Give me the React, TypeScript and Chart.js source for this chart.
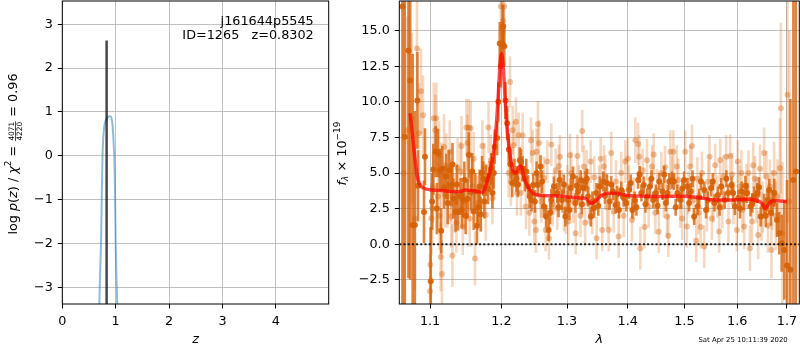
import React, { useEffect, useRef } from 'react';
import { Chart, registerables } from 'chart.js';

Chart.register(...registerables);

const FONT = 'DejaVu Sans';
const FS = 12.8;

// ---------------- Left panel: log p(z) ----------------
const pzZ = [0.693, 0.71, 0.725, 0.74, 0.753, 0.768, 0.785, 0.8, 0.82, 0.84, 0.86, 0.88, 0.9, 0.915, 0.93, 0.944, 0.955, 0.965, 0.974, 0.985, 1.0, 1.015, 1.03, 1.04];
const pzLogP = [-3.4, -2.6, -2.0, -0.9, 0.0, 0.42, 0.65, 0.76, 0.83, 0.86, 0.885, 0.9, 0.9, 0.88, 0.8, 0.65, 0.45, 0.2, 0.0, -0.6, -2.0, -2.8, -3.4, -3.9];
const bestZ = 0.8302;
const bestZTop = 2.63;
const leftXTicks = [0, 1, 2, 3, 4];
const leftYTicks = [-3, -2, -1, 0, 1, 2, 3];
const leftXMin = 0, leftXMax = 4.99;
const leftYMin = -3.38, leftYMax = 3.53;
const objName = 'j161644p5545';
const objInfo = 'ID=1265   z=0.8302';

// ---------------- Right panel: spectrum ----------------
const rightXTicks = [1.1, 1.2, 1.3, 1.4, 1.5, 1.6, 1.7];
const rightYTicks = [-2.5, 0, 2.5, 5, 7.5, 10, 12.5, 15];
const rightXMin = 1.0595, rightXMax = 1.7257;
const rightYMin = -4.2, rightYMax = 17.08;
const timestamp = 'Sat Apr 25 10:11:39 2020';

const modelLam = [1.0734, 1.076, 1.079, 1.083, 1.087, 1.092, 1.1, 1.11, 1.12, 1.13, 1.14, 1.148, 1.155, 1.165, 1.1725, 1.1797, 1.1869, 1.1917, 1.195, 1.1984, 1.2, 1.2026, 1.2056, 1.209, 1.213, 1.2175, 1.2215, 1.2265, 1.229, 1.2348, 1.2441, 1.255, 1.27, 1.29, 1.305, 1.32, 1.33, 1.3384, 1.345, 1.355, 1.365, 1.38, 1.39, 1.4, 1.42, 1.45, 1.48, 1.5, 1.52, 1.54, 1.55, 1.57, 1.6, 1.62, 1.638, 1.648, 1.656, 1.662, 1.67, 1.68, 1.7];
const modelF = [9.2, 8.0, 6.4, 4.75, 4.15, 3.93, 3.82, 3.78, 3.75, 3.7, 3.68, 3.8, 3.78, 3.7, 3.65, 4.5, 5.9, 7.8, 10.1, 12.9, 13.4, 12.5, 10.1, 7.8, 6.15, 5.1, 5.0, 5.45, 5.5, 4.5, 3.7, 3.45, 3.4, 3.38, 3.3, 3.25, 3.2, 2.85, 3.0, 3.4, 3.58, 3.58, 3.5, 3.42, 3.38, 3.35, 3.36, 3.36, 3.3, 3.2, 3.12, 3.1, 3.12, 3.15, 3.05, 2.9, 2.5, 2.8, 3.05, 3.05, 3.0];

const darkLam = [
  1.0636, 1.0666, 1.0714, 1.0737, 1.0769, 1.0798, 1.0831, 1.0839, 1.0919, 1.0932,
  1.1009, 1.1044, 1.1077, 1.1107, 1.1135, 1.1150, 1.1189, 1.1221, 1.1258, 1.1290,
  1.1317, 1.1348, 1.1383, 1.1417, 1.1452, 1.1488, 1.1533, 1.1562, 1.1601, 1.1648,
  1.1685, 1.1720, 1.1753, 1.1781, 1.1830, 1.1869, 1.1903, 1.1938, 1.1976, 1.2015,
  1.2026, 1.2060, 1.2109, 1.2159, 1.2193, 1.2223, 1.2272, 1.2313, 1.2348, 1.2399,
  1.2423, 1.2475, 1.2526, 1.2545, 1.2587, 1.2638, 1.2675, 1.2711, 1.2753, 1.2794,
  1.2847, 1.2883, 1.2920, 1.2974, 1.3015, 1.3058, 1.3095, 1.3134, 1.3176, 1.3219,
  1.3257, 1.3296, 1.3338, 1.3383, 1.3437, 1.3476, 1.3531, 1.3586, 1.3648, 1.3693,
  1.3749, 1.3794, 1.3850, 1.3889, 1.3930, 1.4021, 1.4078, 1.4119, 1.4177, 1.4234,
  1.4276, 1.4334, 1.4382, 1.4440, 1.4488, 1.4547, 1.4606, 1.4667, 1.4727, 1.4776,
  1.4812, 1.4872, 1.4933, 1.4995, 1.5056, 1.5118, 1.5181, 1.5243, 1.5306, 1.5370,
  1.5433, 1.5497, 1.5562, 1.5626, 1.5690, 1.5756, 1.5822, 1.5887, 1.5954, 1.6020,
  1.6086, 1.6126, 1.6194, 1.6260, 1.6328, 1.6396, 1.6464, 1.6532, 1.6601, 1.6669,
  1.6738, 1.6793, 1.6841, 1.6890, 1.6945, 1.7001, 1.7070, 1.7133, 1.7184,
  // further points, mid wavelengths
  1.2500, 1.2610, 1.2735, 1.2866, 1.2950, 1.3038, 1.3155, 1.3238, 1.3318, 1.3410,
  1.3505, 1.3616, 1.3720, 1.3820, 1.3975, 1.4050, 1.4148, 1.4205, 1.4305, 1.4410,
  1.4518, 1.4636, 1.4697, 1.4842, 1.4964, 1.5087, 1.5150, 1.5275, 1.5402, 1.5530,
  1.5658, 1.5789, 1.5920, 1.6053, 1.6160, 1.6294, 1.6430, 1.6566, 1.6635, 1.6705,
  // further points, blue end and line
  1.1028, 1.1092, 1.1165, 1.1240, 1.1305, 1.1366, 1.1435, 1.1470, 1.1515, 1.1580,
  1.1625, 1.1667, 1.1702, 1.1738, 1.1806, 1.1850, 1.1886, 1.1955, 1.1990, 1.2042,
  1.2085, 1.2135, 1.2245, 1.2290, 1.2370, 1.2450,
];
const darkFlux = [
  16.7, 7.55, 13.6, 11.5, 1.35, 1.35, 10.1, 4.1, 2.27, 6.15,
  -2.6, 5.25, 6.5, 6.4, 5.2, 0.95, 4.0, 4.75, 5.2, 4.15,
  3.2, 2.27, 2.27, 3.35, 3.1, 2.0, 6.27, 3.65, 2.3, 1.3,
  4.05, 5.0, 3.0, 4.5, 4.75, 3.6, 6.85, 7.45, 14.1, 14.1,
  15.3, 10.1, 6.65, 4.3, 5.0, 4.6, 5.9, 5.3, 4.6, 4.05,
  3.35, 4.15, 5.0, 4.15, 5.45, 2.65, 1.95, 1.0, 3.1, 4.05,
  3.6, 4.5, 3.1, 1.95, 3.1, 3.95, 4.75, 2.9, 3.7, 4.5,
  3.95, 4.4, 3.35, 1.95, 2.55, 3.6, 4.05, 4.4, 4.3, 3.0,
  3.7, 2.75, 2.4, 3.8, 3.25, 3.8, 2.4, 3.1, 4.5, 3.6,
  4.15, 3.35, 4.05, 3.1, 3.6, 4.4, 3.7, 2.9, 4.4, 4.5,
  4.4, 3.6, 3.1, 4.5, 4.05, 3.7, 1.95, 2.65, 4.4, 3.8,
  3.1, 3.95, 2.9, 3.45, 4.05, 3.1, 3.6, 4.15, 2.65, 3.25,
  3.7, 3.1, 3.6, 2.65, 3.35, 3.6, 1.95, 2.75, 3.1, 2.2,
  3.6, 1.7, 0.77, 0.07, -0.4, -1.5, -1.8, 4.5, 5.1,
  3.0, 4.4, 2.2, 2.6, 4.2, 2.4, 4.1, 2.8, 4.6, 3.0,
  2.7, 3.4, 4.2, 3.5, 2.9, 4.3, 2.6, 4.9, 2.8, 4.6,
  2.7, 4.9, 3.6, 2.6, 3.9, 2.9, 4.6, 3.3, 2.4, 4.4,
  2.6, 4.6, 3.6, 2.5, 4.1, 2.9, 4.0, 2.0, 3.8, 2.9,
  3.0, 2.5, 5.3, 2.9, 5.6, 4.2, 2.4, 4.5, 3.2, 5.1,
  3.7, 2.6, 2.1, 4.6, 3.9, 5.3, 5.0, 10.0, 12.5, 13.9,
  8.5, 5.6, 4.2, 5.8, 5.1, 3.1,
];
const darkErr = [
  25, 20, 16, 14, 12, 8, 3.4, 2.5, 2.2, 2.0,
  3.8, 1.8, 1.8, 1.7, 1.5, 1.6, 1.5, 1.6, 1.4, 1.5,
  1.4, 1.4, 1.3, 1.3, 1.2, 1.3, 1.6, 1.3, 1.3, 1.3,
  1.2, 1.2, 1.2, 1.1, 1.1, 1.1, 1.2, 1.2, 1.5, 1.5,
  1.5, 1.3, 1.1, 1.0, 1.0, 0.9, 0.9, 0.9, 0.9, 0.8,
  0.8, 0.8, 0.8, 0.8, 0.8, 0.8, 0.8, 0.8, 0.8, 0.7,
  0.7, 0.7, 0.7, 0.7, 0.7, 0.7, 0.7, 0.7, 0.7, 0.7,
  0.7, 0.7, 0.7, 0.7, 0.7, 0.7, 0.7, 0.7, 0.6, 0.6,
  0.6, 0.6, 0.6, 0.6, 0.6, 0.6, 0.6, 0.6, 0.6, 0.6,
  0.6, 0.6, 0.6, 0.6, 0.6, 0.6, 0.6, 0.6, 0.6, 0.6,
  0.6, 0.6, 0.6, 0.6, 0.6, 0.6, 0.6, 0.6, 0.6, 0.6,
  0.6, 0.6, 0.6, 0.6, 0.6, 0.6, 0.6, 0.6, 0.6, 0.6,
  0.7, 0.7, 0.7, 0.7, 0.7, 0.7, 0.7, 0.8, 0.8, 0.9,
  1.0, 1.2, 1.5, 2.0, 3.5, 6, 12, 16, 20,
  0.8, 0.8, 0.8, 0.7, 0.7, 0.7, 0.7, 0.7, 0.7, 0.7,
  0.7, 0.6, 0.6, 0.6, 0.6, 0.6, 0.6, 0.6, 0.6, 0.6,
  0.6, 0.6, 0.6, 0.6, 0.6, 0.6, 0.6, 0.6, 0.6, 0.6,
  0.6, 0.6, 0.6, 0.7, 0.7, 0.7, 0.7, 0.8, 0.8, 0.9,
  2.0, 1.8, 1.6, 1.5, 1.5, 1.4, 1.3, 1.3, 1.4, 1.3,
  1.3, 1.3, 1.2, 1.2, 1.1, 1.1, 1.1, 1.4, 1.5, 1.4,
  1.2, 1.0, 0.9, 0.9, 0.9, 0.8,
];

const lightLam = [
  1.0650, 1.0700, 1.0757, 1.0797, 1.0826, 1.0852, 1.0878, 1.0906, 1.1004, 1.1000,
  1.1017, 1.1030, 1.1050, 1.1071, 1.1085, 1.1107, 1.1121, 1.1144, 1.1152, 1.1161,
  1.1189, 1.1198, 1.1234, 1.1267, 1.1290, 1.1304, 1.1337, 1.1376, 1.1415, 1.1447,
  1.1499, 1.1513, 1.1517, 1.1531, 1.1559, 1.1583, 1.1620, 1.1701, 1.1725, 1.1773,
  1.1813, 1.1846, 1.1894, 1.1992, 1.2007, 1.2026, 1.2041, 1.2106, 1.2126, 1.2140,
  1.2166, 1.2180, 1.2215, 1.2230, 1.2255, 1.2289, 1.2315, 1.2365, 1.2415, 1.2441,
  1.2466, 1.2491, 1.2517, 1.2527, 1.2547, 1.2563, 1.2589, 1.2640, 1.2666, 1.2717,
  1.2753, 1.2795, 1.2821, 1.2846, 1.2888, 1.2951, 1.2983, 1.3003, 1.3046, 1.3067,
  1.3137, 1.3190, 1.3243, 1.3271, 1.3314, 1.3352, 1.3406, 1.3478, 1.3516, 1.3571,
  1.3599, 1.3621, 1.3677, 1.3761, 1.3845, 1.3889, 1.3957, 1.4015, 1.4072, 1.4129,
  1.4176, 1.4198, 1.4216, 1.4257, 1.4332, 1.4362, 1.4420, 1.4478, 1.4539, 1.4585,
  1.4628, 1.4687, 1.4746, 1.4777, 1.4800, 1.4862, 1.4923, 1.5015, 1.5046, 1.5107,
  1.5168, 1.5218, 1.5261, 1.5325, 1.5368, 1.5418, 1.5467, 1.5512, 1.5575, 1.5619,
  1.5670, 1.5733, 1.5785, 1.5829, 1.5862, 1.5926, 1.5992, 1.6043, 1.6082, 1.6135,
  1.6181, 1.6248, 1.6313, 1.6379, 1.6413, 1.6479, 1.6533, 1.6580, 1.6648, 1.6681,
  1.6736, 1.6803, 1.6853, 1.6873, 1.6906, 1.7010, 1.7050,
  // further points
  1.2600, 1.2690, 1.2775, 1.2870, 1.2920, 1.3020, 1.3100, 1.3165, 1.3215, 1.3290,
  1.3380, 1.3440, 1.3545, 1.3650, 1.3720, 1.3800, 1.3930, 1.4000, 1.4100, 1.4290,
  1.4450, 1.4510, 1.4650, 1.4710, 1.4890, 1.4960, 1.5070, 1.5140, 1.5240, 1.5300,
  1.5445, 1.5540, 1.5650, 1.5710, 1.5900, 1.6010, 1.6100, 1.6220, 1.6290, 1.6350,
  1.6450, 1.6505, 1.6610, 1.6700, 1.6770,
  1.1040, 1.1130, 1.1220, 1.1280, 1.1360, 1.1430, 1.1470, 1.1545, 1.1600, 1.1660,
  1.1750, 1.1870,
];
const lightFlux = [
  5.0, 8.0, 8.85, 1.8, 13.75, 7.8, 10.75, 9.05, -1.45, -3.3,
  1.8, 2.5, 8.85, 8.0, 8.85, 3.35, 6.25, -0.9, 4.85, -2.1,
  6.85, 3.45, 3.35, 6.5, 1.95, -0.8, 2.9, 5.35, 5.1, 1.25,
  8.2, 7.1, 4.5, 8.2, 8.15, 4.05, -1.0, 2.65, 6.9, 2.05,
  8.2, 5.9, 5.0, 16.7, 15.15, 15.7, 16.7, 5.0, 11.4, 4.4,
  8.0, 6.95, 8.6, 3.6, 7.65, 3.6, 7.65, 2.65, 2.2, 7.3,
  6.4, 1.6, 1.0, 6.5, 8.45, 7.1, 3.35, 4.65, 1.0, 0.42,
  7.0, 3.6, 5.2, 2.5, 6.15, 2.4, 2.2, 4.05, 6.25, 5.0,
  0.77, 4.05, 7.95, 5.45, 5.1, 2.9, 2.2, 0.42, 4.05, 1.0,
  5.45, 4.75, 1.0, 2.3, 0.54, 5.0, 5.8, 4.05, 1.7, 7.3,
  7.04, 6.15, -0.28, 5.2, 5.9, 2.65, 5.45, 2.2, 0.88, 5.0,
  3.35, 1.95, 6.5, 4.75, 6.5, 5.45, 2.65, 6.5, 1.25, 5.45,
  3.1, 0.25, 2.2, 5.0, -0.17, 2.4, 6.15, 1.8, 5.55, 3.35,
  5.9, 4.75, 6.15, 1.6, 6.2, 2.9, 1.0, 4.05, 5.0, 1.25,
  4.05, -0.28, 5.55, 3.1, 0.65, 1.95, 6.4, 4.75, 4.05, -0.4,
  5.0, 3.35, 5.35, 9.55, 0.77, 10.5, 3.0,
  3.0, 5.8, 2.8, 5.5, 3.7, 1.6, 3.0, 6.2, 2.0, 1.5,
  5.8, 4.7, 6.0, 2.6, 6.4, 4.4, 2.0, 6.0, 3.2, 1.2,
  6.3, 3.8, 5.4, 0.6, 4.5, 1.8, 3.6, 6.9, 4.6, 1.2,
  4.4, 3.0, 0.9, 2.6, 4.9, 5.8, 2.4, 5.0, 1.6, 4.6,
  5.3, 2.6, 1.3, 3.1, 2.0,
  4.0, 2.0, 5.5, 3.8, 1.5, 6.9, 3.0, 1.8, 6.0, 2.9,
  5.3, 3.2,
];
const lightErr = [
  12, 8, 6, 5, 4, 3.5, 3, 2.8, 2.6, 2.6,
  2.5, 2.5, 2.5, 2.5, 2.5, 2.4, 2.4, 2.4, 2.3, 2.4,
  2.3, 2.3, 2.2, 2.2, 2.2, 2.2, 2.1, 2.1, 2.1, 2.0,
  2.0, 2.0, 2.0, 2.0, 1.9, 1.9, 1.9, 1.8, 1.8, 1.8,
  1.8, 1.8, 1.8, 2.0, 2.0, 2.0, 2.0, 1.7, 1.8, 1.7,
  1.7, 1.7, 1.7, 1.6, 1.6, 1.6, 1.6, 1.6, 1.6, 1.6,
  1.6, 1.6, 1.6, 1.6, 1.6, 1.6, 1.5, 1.5, 1.5, 1.5,
  1.5, 1.5, 1.5, 1.5, 1.5, 1.5, 1.5, 1.5, 1.5, 1.5,
  1.5, 1.5, 1.5, 1.5, 1.5, 1.5, 1.5, 1.5, 1.5, 1.5,
  1.5, 1.5, 1.5, 1.5, 1.5, 1.5, 1.5, 1.5, 1.5, 1.6,
  1.5, 1.5, 1.5, 1.5, 1.5, 1.5, 1.5, 1.5, 1.5, 1.5,
  1.5, 1.5, 1.5, 1.5, 1.5, 1.5, 1.5, 1.5, 1.5, 1.5,
  1.5, 1.5, 1.5, 1.5, 1.5, 1.5, 1.5, 1.5, 1.5, 1.5,
  1.5, 1.5, 1.5, 1.5, 1.5, 1.5, 1.5, 1.5, 1.6, 1.6,
  1.6, 1.6, 1.6, 1.6, 1.7, 1.7, 1.8, 1.8, 1.9, 2.0,
  2.2, 2.6, 3.5, 6, 5, 9, 12,
  1.5, 1.5, 1.5, 1.5, 1.5, 1.5, 1.5, 1.5, 1.5, 1.5,
  1.5, 1.5, 1.5, 1.5, 1.5, 1.5, 1.5, 1.5, 1.5, 1.5,
  1.5, 1.5, 1.5, 1.5, 1.5, 1.5, 1.5, 1.5, 1.5, 1.5,
  1.5, 1.5, 1.5, 1.5, 1.5, 1.5, 1.6, 1.6, 1.6, 1.6,
  1.7, 1.8, 1.9, 2.1, 2.4,
  2.5, 2.4, 2.3, 2.2, 2.1, 2.1, 2.0, 2.0, 1.9, 1.9,
  1.8, 1.8,
];

// ---------------- helpers ----------------
const fmtMinus = (v: number, digits: number) => (v < 0 ? '\u2212' : '') + Math.abs(v).toFixed(digits);

const errorBarPlugin = {
  id: 'errorBars',
  beforeDatasetDraw(chart: any, args: any) {
    const ds = chart.data.datasets[args.index];
    if (!ds.errors) return;
    const ys = chart.scales.y;
    const ctx = chart.ctx;
    const a = chart.chartArea;
    ctx.save();
    ctx.beginPath();
    ctx.rect(a.left, a.top, a.right - a.left, a.bottom - a.top);
    ctx.clip();
    ctx.strokeStyle = ds.errColor;
    ctx.lineWidth = ds.errWidth;
    ctx.lineCap = 'butt';
    args.meta.data.forEach((el: any, i: number) => {
      const v = ds.data[i].y;
      const e = ds.errors[i];
      ctx.beginPath();
      ctx.moveTo(el.x, ys.getPixelForValue(v - e));
      ctx.lineTo(el.x, ys.getPixelForValue(v + e));
      ctx.stroke();
    });
    ctx.restore();
  },
};

const framePlugin = {
  id: 'frame',
  afterDraw(chart: any) {
    const a = chart.chartArea;
    const ctx = chart.ctx;
    ctx.save();
    ctx.strokeStyle = '#000';
    ctx.lineWidth = 1;
    ctx.strokeRect(a.left, a.top, a.right - a.left, a.bottom - a.top);
    ctx.restore();
  },
};

type Piece = { t?: string; f: string; dy: number; frac?: [string, string] };

function drawRotated(ctx: CanvasRenderingContext2D, pieces: Piece[], cx: number, cy: number) {
  const widths = pieces.map((p) => {
    ctx.font = p.f;
    if (p.frac) return Math.max(ctx.measureText(p.frac[0]).width, ctx.measureText(p.frac[1]).width) + 2;
    return ctx.measureText(p.t || '').width;
  });
  const total = widths.reduce((s, w) => s + w, 0);
  ctx.save();
  ctx.translate(cx, cy);
  ctx.rotate(-Math.PI / 2);
  ctx.fillStyle = '#000';
  ctx.textBaseline = 'alphabetic';
  ctx.textAlign = 'left';
  let x = -total / 2;
  pieces.forEach((p, i) => {
    ctx.font = p.f;
    if (p.frac) {
      const w = widths[i];
      const barY = p.dy;
      const nw = ctx.measureText(p.frac[0]).width;
      const dw = ctx.measureText(p.frac[1]).width;
      ctx.fillText(p.frac[0], x + (w - nw) / 2, barY - 1.3);
      ctx.fillText(p.frac[1], x + (w - dw) / 2, barY + 6.6);
      ctx.fillRect(x + 0.5, barY - 0.35, w - 1, 0.7);
    } else {
      ctx.fillText(p.t || '', x, p.dy);
    }
    x += widths[i];
  });
  ctx.restore();
}

const leftTextPlugin = {
  id: 'leftText',
  afterDraw(chart: any) {
    const ctx: CanvasRenderingContext2D = chart.ctx;
    const a = chart.chartArea;
    const main = `${FS}px "${FONT}"`;
    const ital = `italic ${FS}px "${FONT}"`;
    const sup = `${FS * 0.7}px "${FONT}"`;
    const fr = `${FS * 0.58}px "${FONT}"`;
    ctx.save();
    ctx.fillStyle = '#000';
    ctx.font = main;
    ctx.textAlign = 'right';
    ctx.textBaseline = 'alphabetic';
    ctx.fillText(objName, a.right - 15, 24.5);
    ctx.fillText(objInfo, a.right - 15, 39);
    ctx.font = ital;
    ctx.textAlign = 'center';
    ctx.fillText('z', (a.left + a.right) / 2, 343);
    ctx.restore();
    drawRotated(ctx, [
      { t: 'log', f: main, dy: 0 },
      { t: ' ', f: main, dy: 0 },
      { t: 'p', f: ital, dy: 0 },
      { t: '(', f: main, dy: 0 },
      { t: 'z', f: ital, dy: 0 },
      { t: ')', f: main, dy: 0 },
      { t: ' / ', f: main, dy: 0 },
      { t: '\u03c7', f: ital, dy: 0 },
      { t: '2', f: sup, dy: -0.42 * FS },
      { t: ' = ', f: main, dy: 0 },
      { frac: ['4071', '4220'], f: fr, dy: -1.0 },
      { t: ' = 0.96', f: main, dy: 0 },
    ], 16.5, 154);
  },
};

const rightTextPlugin = {
  id: 'rightText',
  afterDraw(chart: any) {
    const ctx: CanvasRenderingContext2D = chart.ctx;
    const a = chart.chartArea;
    const main = `${FS}px "${FONT}"`;
    const ital = `italic ${FS}px "${FONT}"`;
    const sub = `italic ${FS * 0.7}px "${FONT}"`;
    const sup = `${FS * 0.7}px "${FONT}"`;
    ctx.save();
    ctx.fillStyle = '#000';
    ctx.font = ital;
    ctx.textAlign = 'center';
    ctx.textBaseline = 'alphabetic';
    ctx.fillText('\u03bb', (a.left + a.right) / 2, 343);
    ctx.font = `6.9px "${FONT}"`;
    ctx.textAlign = 'right';
    ctx.fillText(timestamp, 787.7, 342);
    ctx.restore();
    drawRotated(ctx, [
      { t: 'f', f: ital, dy: 0 },
      { t: '\u03bb', f: sub, dy: 0.22 * FS },
      { t: ' \u00d7 10', f: main, dy: 0 },
      { t: '\u221219', f: sup, dy: -0.42 * FS },
    ], 345.5, 153.5);
  },
};

function axis(ticks: number[], fmt: (v: number) => string, fit: (s: any) => void, extra: any) {
  return {
    ...extra,
    afterBuildTicks: (s: any) => {
      s.ticks = ticks.map((v) => ({ value: v }));
    },
    afterFit: (s: any) => {
      fit(s);
      s.paddingTop = 0;
      s.paddingBottom = 0;
      s.paddingLeft = 0;
      s.paddingRight = 0;
    },
    grid: { color: '#b0b0b0', lineWidth: 0.8, tickColor: '#000', tickLength: 4.5, tickWidth: 1, drawTicks: true },
    border: { display: false },
    ticks: {
      callback: (v: any) => fmt(Number(v)),
      font: { family: FONT, size: FS },
      color: '#000',
      padding: 5,
      autoSkip: false,
      maxRotation: 0,
      minRotation: 0,
    },
    z: 1,
  };
}

export default function App() {
  const leftRef = useRef<HTMLCanvasElement>(null);
  const rightRef = useRef<HTMLCanvasElement>(null);

  useEffect(() => {
    document.body.style.margin = '0';
    const left = new Chart(leftRef.current as HTMLCanvasElement, {
      type: 'scatter',
      data: {
        datasets: [
          {
            label: 'best z',
            data: [{ x: bestZ, y: leftYMin - 1 }, { x: bestZ, y: bestZTop }],
            showLine: true,
            borderColor: 'rgba(0,0,0,0.72)',
            borderWidth: 2.5,
            pointRadius: 0,
            order: 0,
          } as any,
          {
            label: 'p(z)',
            data: pzZ.map((x, i) => ({ x, y: pzLogP[i] })),
            showLine: true,
            borderColor: 'rgba(31,119,180,0.5)',
            borderWidth: 2,
            pointRadius: 0,
            cubicInterpolationMode: 'monotone',
            order: 1,
          } as any,
        ],
      },
      options: {
        animation: false,
        responsive: false,
        events: [],
        layout: { autoPadding: false, padding: { left: 0, top: 1, right: 800 - 328.7, bottom: 0 } },
        plugins: { legend: { display: false }, tooltip: { enabled: false } },
        scales: {
          x: axis(leftXTicks, (v) => fmtMinus(v, 0), (s: any) => { s.height = 46; }, { type: 'linear', min: leftXMin, max: leftXMax }),
          y: axis(leftYTicks, (v) => fmtMinus(v, 0), (s: any) => { s.width = 62.3; }, { type: 'linear', min: leftYMin, max: leftYMax }),
        },
      } as any,
      plugins: [framePlugin, leftTextPlugin],
    });

    const right = new Chart(rightRef.current as HTMLCanvasElement, {
      type: 'scatter',
      data: {
        datasets: [
          {
            label: 'zero',
            data: [{ x: rightXMin, y: 0 }, { x: rightXMax, y: 0 }],
            showLine: true,
            borderColor: 'rgba(0,0,0,0.85)',
            borderWidth: 2,
            borderDash: [2, 2.2],
            borderCapStyle: 'butt',
            pointRadius: 0,
            order: 0,
          } as any,
          {
            label: 'model',
            data: modelLam.map((x, i) => ({ x, y: modelF[i] })),
            showLine: true,
            borderColor: 'rgba(255,0,0,0.7)',
            borderWidth: 3.5,
            pointRadius: 0,
            cubicInterpolationMode: 'monotone',
            order: 0,
          } as any,
          {
            label: 'dark',
            data: darkLam.map((x, i) => ({ x, y: darkFlux[i] })),
            errors: darkErr,
            errColor: 'rgba(214,98,8,0.78)',
            errWidth: 2.6,
            pointRadius: 3,
            backgroundColor: 'rgba(214,98,8,0.92)',
            borderWidth: 0,
            order: 1,
          } as any,
          {
            label: 'light',
            data: lightLam.map((x, i) => ({ x, y: lightFlux[i] })),
            errors: lightErr,
            errColor: 'rgba(214,98,8,0.25)',
            errWidth: 2.6,
            pointRadius: 3,
            backgroundColor: 'rgba(214,98,8,0.38)',
            borderWidth: 0,
            order: 2,
          } as any,
        ],
      },
      options: {
        animation: false,
        responsive: false,
        events: [],
        layout: { autoPadding: false, padding: { left: 0, top: 1, right: 0.7, bottom: 0 } },
        plugins: { legend: { display: false }, tooltip: { enabled: false } },
        scales: {
          x: axis(rightXTicks, (v) => v.toFixed(1), (s: any) => { s.height = 46; }, { type: 'logarithmic', min: rightXMin, max: rightXMax }),
          y: axis(rightYTicks, (v) => fmtMinus(v, 1), (s: any) => { s.width = 399.3; }, { type: 'linear', min: rightYMin, max: rightYMax }),
        },
      } as any,
      plugins: [errorBarPlugin, framePlugin, rightTextPlugin],
    });

    return () => {
      left.destroy();
      right.destroy();
    };
  }, []);

  return (
    <div style={{ position: 'fixed', left: 0, top: 0, width: 800, height: 350, background: '#fff' }}>
      <canvas ref={leftRef} width={800} height={350} style={{ position: 'absolute', left: 0, top: 0, width: 800, height: 350 }} />
      <canvas ref={rightRef} width={800} height={350} style={{ position: 'absolute', left: 0, top: 0, width: 800, height: 350 }} />
    </div>
  );
}
